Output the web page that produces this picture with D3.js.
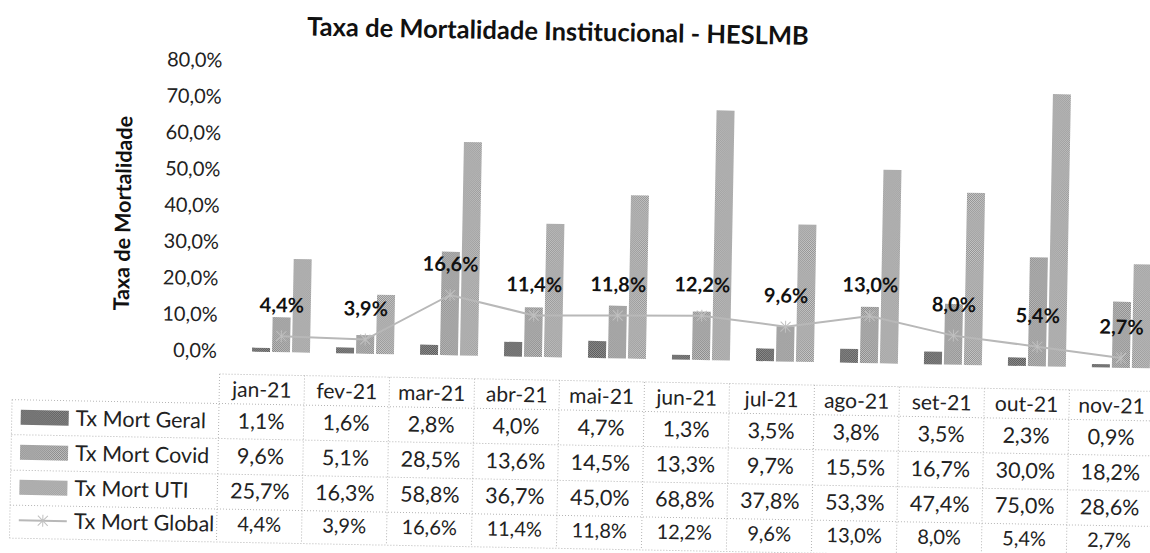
<!DOCTYPE html>
<html>
<head>
<meta charset="utf-8">
<script src="https://cdn.jsdelivr.net/npm/d3@7"></script>
<style>
  body { margin: 0; background: #fff; }
  svg { display: block; font-family: Lato, "Open Sans", sans-serif; }
</style>
</head>
<body>
<div id="chart"></div>
<script>
const months = ["jan-21", "fev-21", "mar-21", "abr-21", "mai-21", "jun-21", "jul-21", "ago-21", "set-21", "out-21", "nov-21"];
const txGeral = [1.1, 1.6, 2.8, 4.0, 4.7, 1.3, 3.5, 3.8, 3.5, 2.3, 0.9];
const txCovid = [9.6, 5.1, 28.5, 13.6, 14.5, 13.3, 9.7, 15.5, 16.7, 30.0, 18.2];
const txUti = [25.7, 16.3, 58.8, 36.7, 45.0, 68.8, 37.8, 53.3, 47.4, 75.0, 28.6];
const txGlobal = [4.4, 3.9, 16.6, 11.4, 11.8, 12.2, 9.6, 13.0, 8.0, 5.4, 2.7];
const yTicks = [0, 10, 20, 30, 40, 50, 60, 70, 80];
const barSeries = ["Tx Mort Geral", "Tx Mort Covid", "Tx Mort UTI"];
const lineSeries = "Tx Mort Global";

const width = 1150, height = 553;
const fmt = v => d3.format(".1f")(v).replace(".", ",") + "%";

const svg = d3.select("#chart").append("svg")
    .attr("width", width)
    .attr("height", height);

// patterns to mimic the halftone of the scan
const defs = svg.append("defs");
const pats = [
    { id: "pGeral", base: "#575757", dot: "#939393" },
    { id: "pCovid", base: "#888888", dot: "#c2c2c2" },
    { id: "pUti", base: "#919191", dot: "#cacaca" }
];
pats.forEach(p => {
    const pt = defs.append("pattern")
        .attr("id", p.id)
        .attr("width", 2).attr("height", 2)
        .attr("patternUnits", "userSpaceOnUse");
    pt.append("rect").attr("width", 2).attr("height", 2).attr("fill", p.base);
    pt.append("rect").attr("width", 1).attr("height", 1).attr("fill", p.dot);
    pt.append("rect").attr("x", 1).attr("y", 1).attr("width", 1).attr("height", 1).attr("fill", p.dot);
});
const fills = ["url(#pGeral)", "url(#pCovid)", "url(#pUti)"];

// the scan is slightly tilted
const g = svg.append("g").attr("transform", "rotate(1.07, 220, 351)");

g.append("text")
    .attr("x", 552).attr("y", 34)
    .attr("text-anchor", "middle")
    .attr("font-weight", "bold")
    .attr("font-size", 25.5)
    .attr("fill", "#111")
    .text("Taxa de Mortalidade Institucional - HESLMB");

const y = d3.scaleLinear().domain([0, 80]).range([351, 60.4]);

const x0 = d3.scaleBand().domain(months).range([239, 1163]).paddingInner(0.31).paddingOuter(0.155);
const x1 = d3.scaleBand().domain(barSeries).range([0, x0.bandwidth()]).paddingInner(0.1);
const xT = d3.scaleBand().domain(months).range([220, 1155]);

const yAxis = g.append("g")
    .attr("transform", "translate(221,0)")
    .call(d3.axisLeft(y).tickValues(yTicks).tickFormat(fmt).tickSize(0).tickPadding(4));
yAxis.select(".domain").remove();
yAxis.selectAll("text")
    .attr("font-family", "Lato")
    .attr("font-size", 20)
    .attr("fill", "#222");

g.append("text")
    .attr("transform", "translate(128,215) rotate(-90)")
    .attr("text-anchor", "middle")
    .attr("font-weight", "bold")
    .attr("font-size", 21.5)
    .attr("fill", "#111")
    .text("Taxa de Mortalidade");

// bars
const barData = [txGeral, txCovid, txUti];
const groups = g.append("g").selectAll("g")
    .data(months)
    .join("g")
    .attr("transform", d => `translate(${x0(d)},0)`);

groups.selectAll("rect")
    .data((m, i) => barSeries.map((s, k) => ({ s, k, v: barData[k][i] })))
    .join("rect")
    .attr("x", d => x1(d.s))
    .attr("width", x1.bandwidth())
    .attr("y", d => y(d.v))
    .attr("height", d => y(0) - y(d.v))
    .attr("fill", d => fills[d.k]);

// global line
const cx = m => x0(m) + x0.bandwidth() / 2;
const line = d3.line()
    .x((d, i) => cx(months[i]))
    .y(d => y(d));

g.append("path")
    .datum(txGlobal)
    .attr("fill", "none")
    .attr("stroke", "#b8b8b8")
    .attr("stroke-width", 2)
    .attr("d", line);

const marker = (sel, px, py) => {
    sel.append("path")
        .attr("d", `M${px - 5},${py - 5}L${px + 5},${py + 5}M${px - 5},${py + 5}L${px + 5},${py - 5}M${px},${py - 6}L${px},${py + 6}`)
        .attr("stroke", "#c0c0c0")
        .attr("stroke-width", 1)
        .attr("fill", "none");
};
txGlobal.forEach((v, i) => marker(g, cx(months[i]), y(v)));

g.append("g").selectAll("text")
    .data(txGlobal)
    .join("text")
    .attr("x", (d, i) => cx(months[i]))
    .attr("y", d => y(d) - 24)
    .attr("text-anchor", "middle")
    .attr("font-weight", "bold")
    .attr("font-size", 20)
    .attr("fill", "#111")
    .text(d => fmt(d));

// data table
const rowLines = [403.5, 438.5, 474, 509, 542];
const rowMid = [421, 456, 491, 524];
const table = g.append("g")
    .attr("stroke", "#b5b5b5")
    .attr("stroke-width", 1)
    .attr("stroke-dasharray", "1,2");

table.append("line").attr("x1", 220).attr("x2", 1155).attr("y1", 374).attr("y2", 374);
table.selectAll("line.h")
    .data(rowLines)
    .join("line").attr("class", "h")
    .attr("x1", 13).attr("x2", 1155)
    .attr("y1", d => d).attr("y2", d => d);
table.append("line").attr("x1", 13).attr("x2", 13).attr("y1", 403.5).attr("y2", 542);
table.selectAll("line.v")
    .data(months.map(m => xT(m)).concat([xT.range()[1]]))
    .join("line").attr("class", "v")
    .attr("x1", d => d).attr("x2", d => d)
    .attr("y1", 374).attr("y2", 542);

const tcx = m => xT(m) + xT.bandwidth() / 2;
const tableFont = 21.5;

g.append("g").selectAll("text")
    .data(months)
    .join("text")
    .attr("x", d => tcx(d))
    .attr("y", 389)
    .attr("dy", "0.35em")
    .attr("text-anchor", "middle")
    .attr("font-size", 21)
    .attr("fill", "#222")
    .text(d => d);

const rows = [txGeral, txCovid, txUti, txGlobal];
const rowNames = barSeries.concat([lineSeries]);

rows.forEach((vals, r) => {
    g.append("g").selectAll("text")
        .data(vals)
        .join("text")
        .attr("x", (d, i) => tcx(months[i]))
        .attr("y", rowMid[r])
        .attr("dy", "0.33em")
        .attr("text-anchor", "middle")
        .attr("font-size", r === 3 ? 20 : tableFont)
        .attr("fill", "#222")
        .text(d => fmt(d));

    if (r < 3) {
        g.append("rect")
            .attr("x", 22).attr("y", rowMid[r] - 7.5)
            .attr("width", 48).attr("height", 15)
            .attr("fill", fills[r]);
    } else {
        g.append("line")
            .attr("x1", 22).attr("x2", 70)
            .attr("y1", rowMid[r]).attr("y2", rowMid[r])
            .attr("stroke", "#b8b8b8").attr("stroke-width", 2);
        marker(g, 46, rowMid[r]);
    }

    g.append("text")
        .attr("x", 77)
        .attr("y", rowMid[r])
        .attr("dy", "0.35em")
        .attr("font-size", tableFont)
        .attr("fill", "#222")
        .text(rowNames[r]);
});
</script>
</body>
</html>
